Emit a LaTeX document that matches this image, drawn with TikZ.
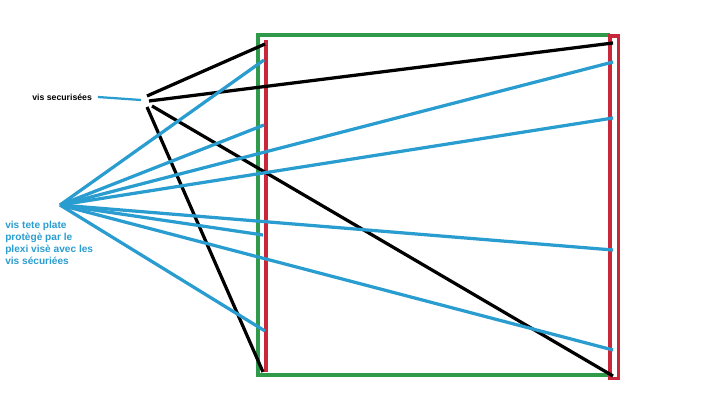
\documentclass[tikz,border=0pt]{standalone}
\usepackage{fontspec}
\setmainfont{Liberation Sans}
\tikzset{
  vis/.style={line width=2.3pt, color=visblue},
  plexi/.style={line width=2.3pt, color=plexigreen},
  bord/.style={line width=2.6pt, color=bordred},
  noir/.style={line width=2.3pt, color=black},
  etiquette/.style={font=\bfseries\fontsize{6.2}{8}\selectfont, inner sep=0pt}
}
\definecolor{visblue}{HTML}{2A9DD0}
\definecolor{plexigreen}{HTML}{2F9A4A}
\definecolor{bordred}{HTML}{C9283A}
\begin{document}
\begin{tikzpicture}[x=0.025cm, y=-0.025cm]
				\useasboundingbox (0,0) rectangle (720,405);

				% plaque
				\draw[plexi] (610,35) -- (258,35) -- (258,375) -- (610,375);
				\draw[bord] (266,40) -- (266,372);
				\draw[bord] (610,36) rectangle (618.5,378.5);

				% etiquettes
				\node[etiquette, anchor=west] (secu) at (32,97) {vis securisées};
				\node[etiquette, font=\bfseries\fontsize{7.2}{8.6}\selectfont, anchor=north west, align=left, text=visblue] (tete) at (5,221) {vis tete plate\\protègè par le\\plexi visè avec les\\vis sécuriées};

				% vis securisees
				\coordinate (s1) at (147,96);
				\coordinate (s2) at (149,101);
				\coordinate (s3) at (147,107);
				\coordinate (s4) at (152,106);
				\coordinate (fleche) at (141,100);
				\draw[vis, line width=1.6pt] (secu.east) ++(4pt,0) -- (fleche);

				\draw[noir] (s1) -- (265,44);
				\draw[noir] (s2) -- (613,43);
				\draw[noir] (s3) -- (263,372);
				\draw[noir] (s4) -- (613,376);

				% vis tete plate
				\coordinate (fan) at (60,205);
				\foreach \p in {(264,60), (264,125), (613,62), (613,118),
				                (263,235), (613,250), (613,350), (265,331)}
				  \draw[vis] (fan) -- \p;
			\end{tikzpicture}
\end{document}
